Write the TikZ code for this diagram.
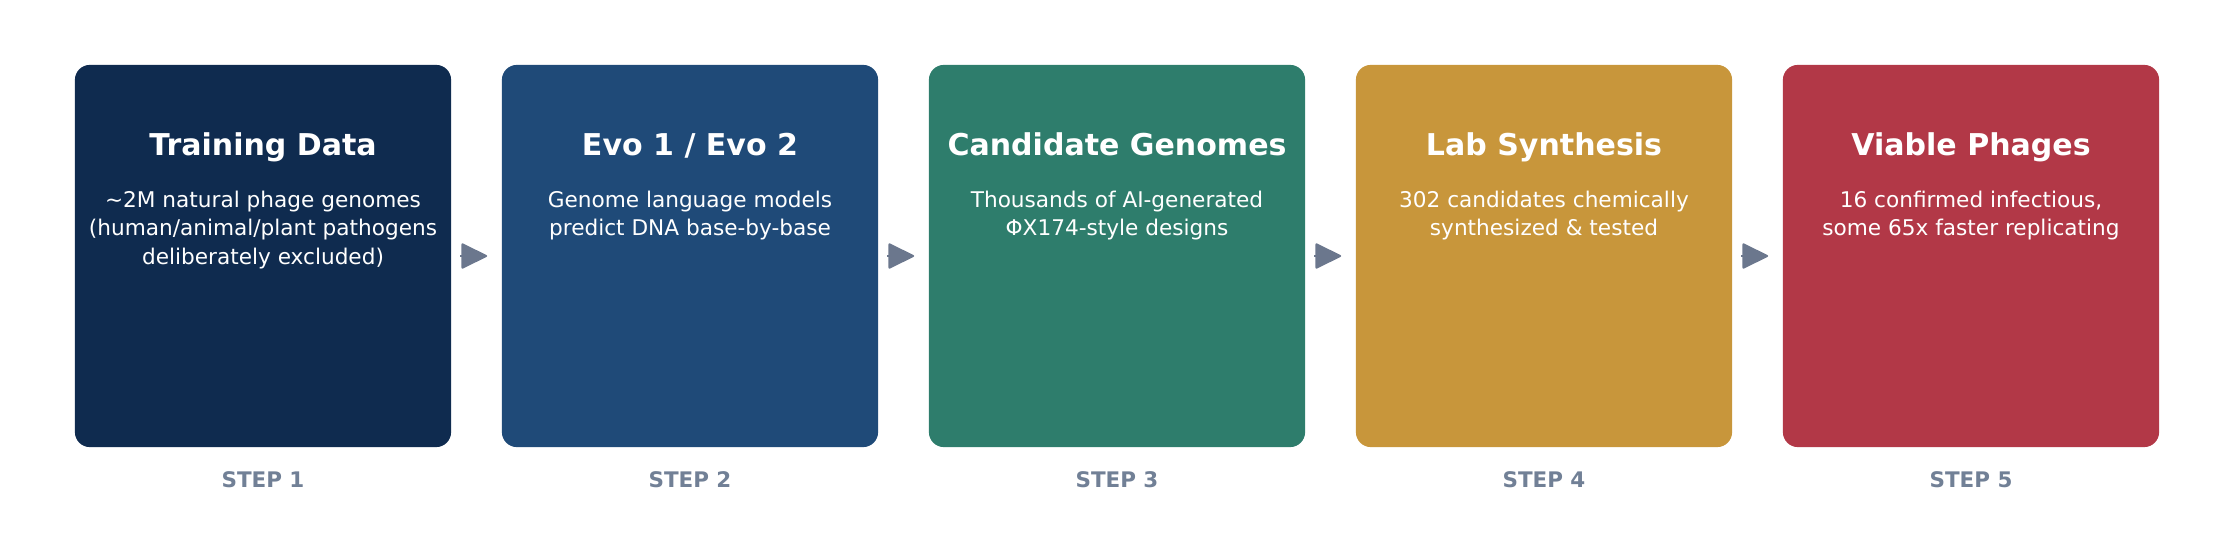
\documentclass[tikz,border=0pt]{standalone}
\usepackage{fontspec}
\setmainfont{DejaVu Sans}
\usetikzlibrary{arrows.meta}
\definecolor{dataNavy}{HTML}{0F2B4F}
\definecolor{evoBlue}{HTML}{1F4A78}
\definecolor{genomeGreen}{HTML}{2E7D6C}
\definecolor{labGold}{HTML}{C8963B}
\definecolor{phageRed}{HTML}{B23847}
\definecolor{arrowGray}{HTML}{6B778D}
\definecolor{stepGray}{HTML}{718096}

\begin{document}
\begin{tikzpicture}[x=0.01cm, y=0.01cm,
    stepbox/.style={rounded corners=0.15cm, minimum width=3.76cm, minimum height=3.82cm, inner sep=0pt},
    boxtitle/.style={text=white, font=\bfseries\fontsize{8.54}{10}\selectfont, anchor=base},
    boxtext/.style={text=white, font=\fontsize{6.15}{8.1}\selectfont, align=center, anchor=base},
    steplabel/.style={text=stepGray, font=\bfseries\fontsize{6.1}{7}\selectfont, anchor=base},
    flowarrow/.style={draw=arrowGray, line width=0.02cm, shorten <=0.085cm, shorten >=0.14cm,
        -{Triangle[length=0.27cm, width=0.26cm, round]}}]
    \useasboundingbox (0,0) rectangle (2235,557);

    % Pipeline stages (\n = lines of the description)
    \foreach \i/\col/\title/\n/\body in {
        1/dataNavy/{Training Data}/3/{\textasciitilde2M natural phage genomes\\(human/animal/plant pathogens\\deliberately excluded)},
        2/evoBlue/{Evo 1 / Evo 2}/2/{Genome language models\\predict DNA base-by-base},
        3/genomeGreen/{Candidate Genomes}/2/{Thousands of AI-generated\\ΦX174-style designs},
        4/labGold/{Lab Synthesis}/2/{302 candidates chemically\\synthesized \& tested},
        5/phageRed/{Viable Phages}/2/{16 confirmed infectious,\\some 65x faster replicating}} {
        \node[stepbox, fill=\col] (b\i) at (263+427*\i-427,301) {};
        \node[boxtitle] (t\i) at (263+427*\i-427,402) {\title};
        \node[boxtext] (d\i) at (263+427*\i-427,350-28.5*\n+28.5) {\body};
        \node[steplabel] (s\i) at (263+427*\i-427,70) {STEP \i};
    }

    % Arrows between stages
    \foreach \i/\j in {1/2, 2/3, 3/4, 4/5} {
        \draw[flowarrow] (b\i.east) -- (b\j.west);
    }
\end{tikzpicture}
\end{document}
